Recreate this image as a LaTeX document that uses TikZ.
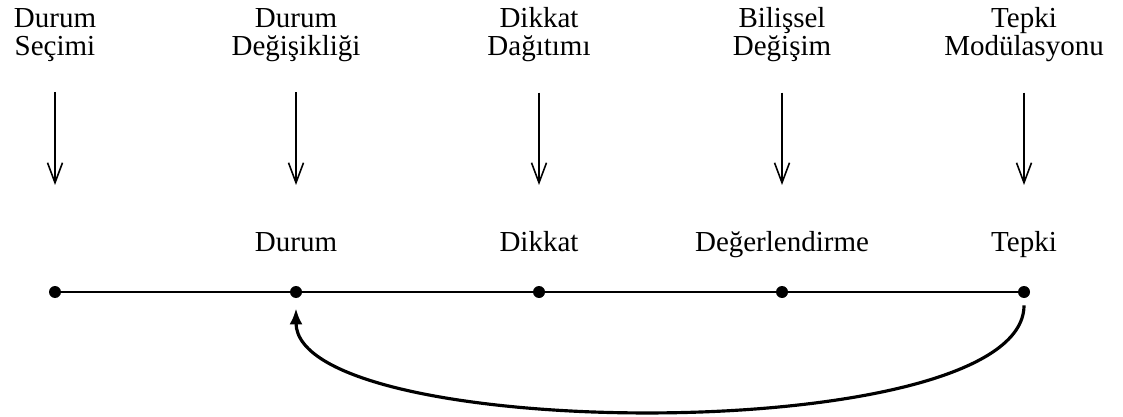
\documentclass[tikz,border=0pt]{standalone}
\usepackage{fontspec}
\setmainfont{Liberation Serif}
\usetikzlibrary{arrows.meta,positioning}

\begin{document}
\begin{tikzpicture}[x=0.2mm,y=0.2mm]
        \tikzset{
            dot/.style={circle,fill=black,inner sep=0pt,minimum size=2.4mm},
            lbl/.style={font=\fontsize{16.5}{16}\selectfont,align=center,inner sep=0pt},
            down/.style={-{Straight Barb[length=4mm,width=3mm]},line width=0.9pt}
        }
        \useasboundingbox (0,0) rectangle (1123,416);
        % time line with the five points
        \foreach \n/\x in {1/55,2/296,3/539,4/782,5/1024}
            \node[dot] (d\n) at (\x,124) {};
        \draw[line width=1.1pt] (d1) -- (d2) -- (d3) -- (d4) -- (d5);
        % strategies on top
        \node[lbl] (s1) at (55,381) {Durum\\Seçimi};
        \node[lbl] (s2) at (296,381) {Durum\\Değişikliği};
        \node[lbl] (s3) at (539,381) {Dikkat\\Dağıtımı};
        \node[lbl] (s4) at (782,381) {Bilişsel\\Değişim};
        \node[lbl] (s5) at (1024,381) {Tepki\\Modülasyonu};
        \foreach \n/\x in {1/55,2/296,3/539,4/782,5/1024}{
            \coordinate (e\n) at (\x,231);
            \draw[down,shorten <=6mm] (s\n.south) -- (e\n);
        }
        % stages
        \node[lbl,above=6.8mm of d2.north,anchor=base] (w2) {Durum};
        \node[lbl,above=6.8mm of d3.north,anchor=base] (w3) {Dikkat};
        \node[lbl,above=6.8mm of d4.north,anchor=base] (w4) {Değerlendirme};
        \node[lbl,above=6.8mm of d5.north,anchor=base] (w5) {Tepki};
        % feedback
        \draw[line width=1.8pt,-{Latex[length=3.2mm,width=2.6mm]},shorten <=1.4mm,shorten >=2mm]
        (d5.south)
        .. controls +(0,-150) and +(0,-145) ..
        (d2.south);
\end{tikzpicture}
\end{document}
